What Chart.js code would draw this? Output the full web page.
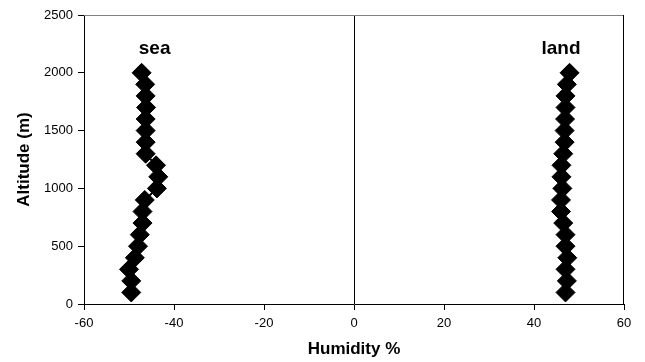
<!DOCTYPE html>
<html>
<head>
<meta charset="utf-8">
<script src="https://cdn.jsdelivr.net/npm/chart.js@4/dist/chart.umd.min.js"></script>
<style>
  html, body { margin: 0; padding: 0; background: #fff; }
  #wrap { width: 645px; height: 362px; }
</style>
</head>
<body>
<div id="wrap"><canvas id="chart" width="645" height="362"></canvas></div>
<script>
// altitude levels (m)
const altitudes = [100, 200, 300, 400, 500, 600, 700, 800, 900, 1000,
                   1100, 1200, 1300, 1400, 1500, 1600, 1700, 1800, 1900, 2000];

// humidity values
const seaHumidity = [-49.5, -49.5, -50, -48.7, -48, -47.6, -47, -47, -46.5, -43.8,
                     -43.5, -44, -46.3, -46.3, -46.3, -46.3, -46.2, -46.3, -46.4, -47.2];
const landHumidity = [47, 47.3, 47, 47.4, 47, 47, 46.5, 46, 46, 46.3,
                      46.1, 46.1, 46.5, 46.8, 46.8, 46.9, 47, 47, 47.3, 47.9];

// series labels and where they sit (data coords: x, baseline altitude)
const seriesNames = ['sea', 'land'];
const labelX = [-44.3, 46];
const labelY = [2163, 2163];

const FONT = '"Liberation Sans", Arial, sans-serif';

function toPoints(xs) {
  return altitudes.map((a, i) => ({ x: xs[i], y: a }));
}

const seriesStyle = {
  showLine: true,
  borderColor: '#000',
  backgroundColor: '#000',
  borderWidth: 2,
  pointStyle: 'rectRot',
  pointRadius: 9.5,
  pointBorderWidth: 1,
  pointBackgroundColor: '#000',
  pointBorderColor: '#000',
  pointHoverRadius: 9.5,
};

// 박스 테두리 + 계열 이름
const decorPlugin = {
  id: 'decor',
  afterDatasetsDraw(chart) {
    const { ctx, chartArea: a, scales } = chart;
    ctx.save();
    ctx.lineWidth = 1;
    ctx.strokeStyle = '#808080';
    ctx.beginPath();
    ctx.moveTo(a.left, a.top + 0.5);
    ctx.lineTo(a.right, a.top + 0.5);
    ctx.stroke();
    ctx.strokeStyle = '#000';
    ctx.beginPath();
    ctx.moveTo(a.right - 0.5, a.top);
    ctx.lineTo(a.right - 0.5, a.bottom);
    ctx.stroke();

    ctx.fillStyle = '#000';
    ctx.font = 'bold 19px ' + FONT;
    ctx.textAlign = 'center';
    ctx.textBaseline = 'alphabetic';
    seriesNames.forEach((name, i) => {
      ctx.fillText(name, scales.x.getPixelForValue(labelX[i]), scales.y.getPixelForValue(labelY[i]));
    });
    ctx.restore();
  }
};

new Chart(document.getElementById('chart'), {
  type: 'scatter',
  data: {
    datasets: [
      { label: 'sea', data: toPoints(seaHumidity), ...seriesStyle },
      { label: 'land', data: toPoints(landHumidity), ...seriesStyle },
    ]
  },
  options: {
    responsive: false,
    animation: false,
    events: [],
    layout: { padding: { top: 15, right: 21, left: 0, bottom: 0 } },
    plugins: {
      legend: { display: false },
      tooltip: { enabled: false },
    },
    scales: {
      x: {
        type: 'linear',
        min: -60,
        max: 60,
        afterFit(scale) { scale.height = 58; },
        ticks: { stepSize: 20, color: '#000', padding: 6, font: { family: FONT, size: 13 },
                 callback: v => String(v) },
        grid: {
          color: c => (c.tick && c.tick.value === 0 ? '#000' : 'rgba(0,0,0,0)'),
          tickColor: '#000',
          tickLength: 6,
          drawOnChartArea: true,
        },
        border: { display: true, color: '#000', width: 1 },
        title: {
          display: true,
          text: 'Humidity %',
          color: '#000',
          font: { family: FONT, size: 17, weight: 'bold' },
          padding: { top: 0, bottom: 2 },
        },
      },
      y: {
        type: 'linear',
        min: 0,
        max: 2500,
        afterFit(scale) { scale.width = 84; },
        ticks: { stepSize: 500, color: '#000', padding: 5, font: { family: FONT, size: 13 },
                 callback: v => String(v) },
        grid: {
          drawOnChartArea: false,
          tickColor: '#000',
          tickLength: 6,
        },
        border: { display: true, color: '#000', width: 1 },
        title: {
          display: true,
          text: 'Altitude (m)',
          color: '#000',
          font: { family: FONT, size: 17, weight: 'bold' },
          padding: { top: 14, bottom: 0 },
        },
      },
    },
  },
  plugins: [decorPlugin],
});
</script>
</body>
</html>
